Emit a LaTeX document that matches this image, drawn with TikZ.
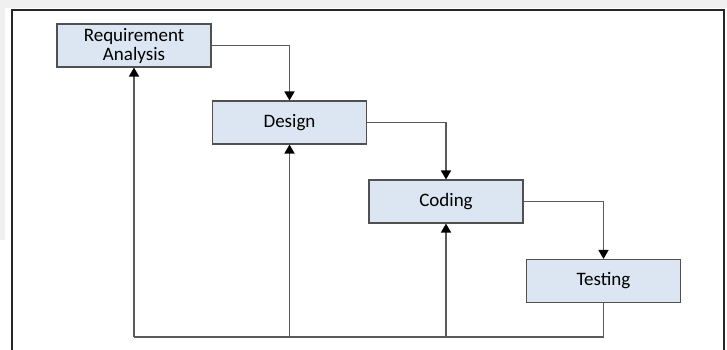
\documentclass[tikz,border=0pt]{standalone}
\usepackage{fontspec}
\setmainfont{Carlito}
\usepackage{tikz}
\usetikzlibrary{positioning}
\usetikzlibrary{arrows.meta}
\usepackage{xcolor}
\definecolor{phasefill}{HTML}{DCE6F2}
\definecolor{phaseline}{HTML}{505050}
\definecolor{linkgray}{HTML}{5A5A5A}

\begin{document}
\begin{tikzpicture}[x=0.5pt,y=-0.5pt,
  phase/.style={draw=phaseline,fill=phasefill,line width=0.55pt,minimum width=77pt,minimum height=21.5pt,align=center,inner sep=1pt,font=\fontsize{9.5}{9.5}\selectfont},
  link/.style={draw=linkgray,line width=0.8pt},
  arr/.style={link,-{Triangle[width=5pt,length=4.5pt,black]}}]
\useasboundingbox (0,0) rectangle (727,349);
\fill[gray!12] (0,0) rectangle (727,8);
\fill[gray!12] (0,0) rectangle (5,240);
\fill[white] (12,10) rectangle (724,360);
\draw[line width=0.8pt,black!85] (12,360)--(12,10)--(724,10)--(724,360);
% phases
\node[phase] (req) at (134,45.5) {Requirement\\Analysis};
\node[phase] (des) at (289.5,122.5) {Design};
\node[phase] (cod) at (446,201.5) {Coding};
\node[phase] (tst) at (603.5,281) {Testing};
% forward flow
\draw[arr] (req.east) -| (des.north);
\draw[arr] (des.east) -| (cod.north);
\draw[arr] (cod.east) -| (tst.north);
% feedback
\coordinate (low) at (0,337);
\draw[link] (tst.south) |- (low -| req.south);
\draw[arr] (low -| req.south) -- (req.south);
\draw[arr] (low -| des.south) -- (des.south);
\draw[arr] (low -| cod.south) -- (cod.south);
\end{tikzpicture}
\end{document}
